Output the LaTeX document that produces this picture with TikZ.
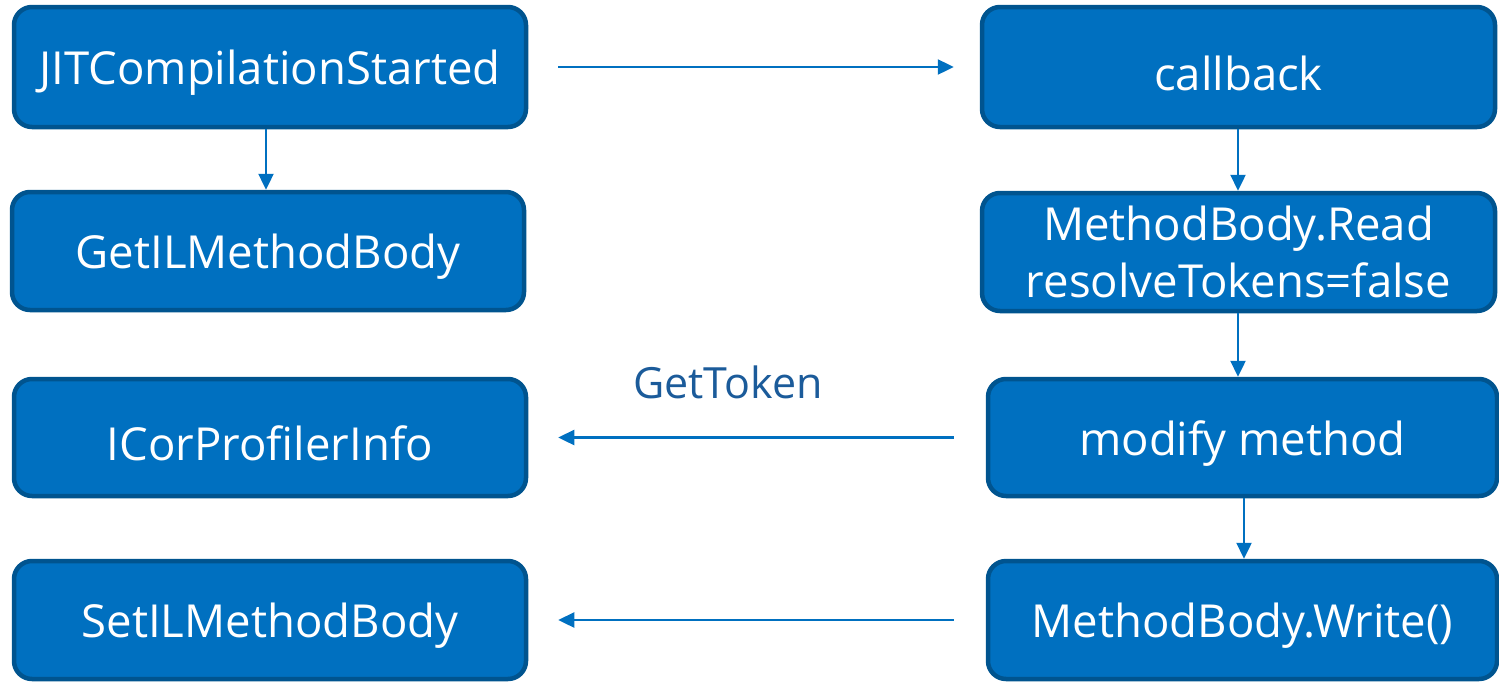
\documentclass[tikz,border=0pt]{standalone}
\usepackage{fontspec}
\setmainfont{Open Sans}
\usetikzlibrary{arrows.meta}
\definecolor{boxfill}{HTML}{0070C0}
\definecolor{boxline}{HTML}{00548F}
\definecolor{arrowblue}{HTML}{0070C0}
\definecolor{labelblue}{HTML}{1B5B9A}
% lower a one-line caption inside its box, keeping its reported size
\newcommand{\lowtext}[1]{\raisebox{-6pt}[\height][\depth]{#1}}
\tikzset{
  stepbox/.style={draw=boxline, fill=boxfill, line width=4.5pt, rounded corners=18pt,
    text=white, align=center, inner sep=0pt,
    font=\fontsize{45.5}{57}\selectfont},
  arr/.style={draw=arrowblue, line width=2.4pt,
    -{Triangle[length=16pt,width=15pt]}},
}
\begin{document}
\begin{tikzpicture}[x=1pt,y=-1pt]
\useasboundingbox (0,0) rectangle (1499,683);
% left column
\node[stepbox, minimum width=512pt, minimum height=120pt] (A) at (270,67) {\lowtext{JITCompilationStarted}};
\node[stepbox, minimum width=512pt, minimum height=118pt] (B) at (268,251) {\lowtext{GetILMethodBody}};
\node[stepbox, minimum width=512pt, minimum height=117pt] (C) at (270,437.5) {\lowtext{ICorProfilerInfo}};
\node[stepbox, minimum width=512pt, minimum height=118pt] (D) at (270,620) {\lowtext{SetILMethodBody}};
% right column
\node[stepbox, minimum width=513pt, minimum height=120pt] (E) at (1238.5,67) {\lowtext{callback}};
\node[stepbox, minimum width=513pt, minimum height=118pt] (F) at (1238.5,252) {MethodBody.Read\\resolveTokens=false};
\node[stepbox, minimum width=509pt, minimum height=117pt] (G) at (1242.5,437.5) {\lowtext{modify method}};
\node[stepbox, minimum width=509pt, minimum height=118pt] (H) at (1242.5,620) {\lowtext{MethodBody.Write()}};
% label over the GetToken call
\node[text=labelblue, font=\fontsize{43}{50}\selectfont, inner sep=0pt] (T) at (728,382) {GetToken};
% connectors
\draw[arr, shorten <=30pt, shorten >=26pt] (A.east) -- (E.west);
\draw[arr] ([xshift=-4pt]A.south) -- ([xshift=-4pt]A.south |- B.north);
\draw[arr] ([xshift=-0.5pt]E.south) -- ([xshift=-0.5pt]E.south |- F.north);
\draw[arr] ([xshift=-0.5pt]F.south) -- ([xshift=-0.5pt]F.south |- G.north);
\draw[arr] ([xshift=1.5pt]G.south) -- ([xshift=1.5pt]G.south |- H.north);
\draw[arr, shorten <=32pt, shorten >=30pt] (G.west) -- (G.west -| C.east);
\draw[arr, shorten <=32pt, shorten >=30pt] (H.west) -- (H.west -| D.east);
\end{tikzpicture}
\end{document}
